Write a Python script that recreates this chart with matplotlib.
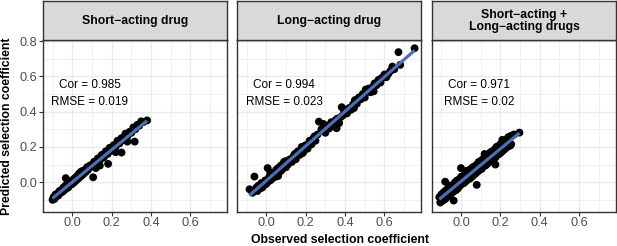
import numpy as np
import matplotlib
matplotlib.use("Agg")
import matplotlib.pyplot as plt
from matplotlib.ticker import FixedLocator

plt.rcParams['font.family'] = ['Liberation Sans', 'DejaVu Sans']

panel_titles = ["Short\u2212acting drug", "Long\u2212acting drug", "Short\u2212acting +\nLong\u2212acting drugs"]
cor_values = ["0.985", "0.994", "0.971"]
rmse_values = ["0.019", "0.023", "0.02"]

short_x = [-0.10, -0.095, -0.09, -0.085, -0.08, -0.075, -0.07, -0.065, -0.06, -0.055, -0.05, -0.045,
           -0.04, -0.035, -0.03, -0.025, -0.02, -0.015, -0.01, -0.005, 0.0, 0.005, 0.01, 0.015, 0.02,
           0.025, 0.03, 0.035, 0.04, 0.045, 0.05, 0.055, 0.06, 0.065, 0.07, 0.075, 0.08, 0.09, 0.10,
           0.11, 0.12, 0.13, 0.14, 0.15, 0.16, 0.17, 0.18, 0.19, 0.20, 0.21, 0.22, 0.23, 0.24, 0.25,
           0.26, 0.27, 0.28, 0.29, 0.30, 0.31, 0.32, 0.33, 0.34, 0.35, 0.36, 0.38,
           0.317, 0.25, 0.182, 0.14, 0.106, -0.033, 0.28, 0.12, 0.22]
short_y = [-0.10, -0.085, -0.095, -0.07, -0.08, -0.065, -0.075, -0.05, -0.06, -0.045, -0.055, -0.03,
           -0.045, -0.02, -0.035, -0.01, -0.03, 0.0, -0.015, 0.005, -0.01, 0.015, 0.0, 0.025, 0.01,
           0.035, 0.02, 0.05, 0.03, 0.06, 0.04, 0.065, 0.05, 0.07, 0.06, 0.085, 0.07, 0.095, 0.09,
           0.115, 0.105, 0.135, 0.125, 0.155, 0.14, 0.175, 0.16, 0.195, 0.18, 0.21, 0.20, 0.235, 0.22,
           0.25, 0.24, 0.275, 0.26, 0.285, 0.28, 0.31, 0.30, 0.325, 0.32, 0.345, 0.34, 0.35,
           0.23, 0.168, 0.104, 0.094, 0.028, 0.023, 0.23, 0.08, 0.17]

long_x = [-0.085, -0.07, -0.06, -0.05, -0.045, -0.04, -0.03, -0.025, -0.02, -0.01, -0.005, 0.0, 0.007,
          0.01, 0.015, 0.02, 0.025, 0.03, 0.04, 0.045, 0.05, 0.055, 0.06, 0.07, 0.075, 0.08, 0.09,
          0.095, 0.10, 0.11, 0.12, 0.13, 0.14, 0.15, 0.16, 0.17, 0.18, 0.19, 0.20, 0.21, 0.22, 0.23,
          0.24, 0.25, 0.26, 0.267, 0.28, 0.29, 0.30, 0.31, 0.32, 0.33, 0.34, 0.35, 0.357, 0.36, 0.37,
          0.38, 0.383, 0.39, 0.40, 0.41, 0.42, 0.43, 0.44, 0.45, 0.46, 0.47, 0.48, 0.49, 0.50, 0.51,
          0.52, 0.53, 0.54, 0.55, 0.56, 0.57, 0.58, 0.59, 0.60, 0.61, 0.62, 0.63, 0.65, 0.671, 0.68,
          0.753,
          0.02, 0.06, 0.10, 0.145, 0.185, 0.245, 0.30, 0.395, 0.445, 0.505, 0.545, 0.585, 0.64]
long_y = [-0.04, -0.06, 0.032, -0.03, -0.05, -0.02, -0.035, -0.005, -0.03, -0.015, 0.01, -0.01, 0.08,
          0.005, 0.03, 0.01, 0.045, 0.02, 0.05, 0.03, 0.07, 0.045, 0.08, 0.06, 0.095, 0.07, 0.115,
          0.085, 0.12, 0.10, 0.13, 0.115, 0.15, 0.13, 0.175, 0.155, 0.20, 0.175, 0.21, 0.19, 0.235,
          0.215, 0.25, 0.235, 0.27, 0.343, 0.30, 0.33, 0.31, 0.32, 0.305, 0.34, 0.32, 0.35, 0.306,
          0.36, 0.335, 0.37, 0.425, 0.38, 0.41, 0.39, 0.42, 0.41, 0.44, 0.465, 0.445, 0.48, 0.47,
          0.50, 0.48, 0.51, 0.53, 0.51, 0.54, 0.56, 0.55, 0.58, 0.565, 0.59, 0.61, 0.595, 0.615,
          0.63, 0.64, 0.737, 0.665, 0.759,
          0.055, 0.035, 0.085, 0.16, 0.165, 0.26, 0.28, 0.405, 0.42, 0.525, 0.515, 0.59, 0.655]

both_x = [-0.11, -0.10, -0.09, -0.08, -0.07, -0.06, -0.05, -0.04, -0.03, -0.02, -0.01, 0.0, 0.01, 0.02,
          0.03, 0.04, 0.05, 0.06, 0.07, 0.08, 0.09, 0.10, 0.11, 0.12, 0.13, 0.14, 0.15, 0.16, 0.17,
          0.18, 0.19, 0.20, 0.21, 0.22, 0.23, 0.24, 0.25, 0.26, 0.27, 0.297,
          -0.105, -0.095, -0.085, -0.075, -0.065, -0.055, -0.045, -0.035, -0.025, -0.015, -0.005,
          0.005, 0.015, 0.025, 0.035, 0.045, 0.055, 0.065, 0.075, 0.085, 0.095, 0.105, 0.115, 0.125,
          0.135, 0.145, 0.155, 0.165, 0.175, 0.185, 0.195, 0.205, 0.215, 0.225, 0.235, 0.245, 0.255,
          -0.10, -0.08, -0.06, -0.04, -0.02, 0.0, 0.02, 0.04, 0.06, 0.08, 0.10, 0.12, 0.14, 0.16,
          0.18, 0.20, 0.22, 0.24,
          0.25, -0.037, -0.08, 0.175, 0.08, 0.0, 0.03, 0.12, 0.21, -0.06]
both_y = [-0.085, -0.07, -0.06, -0.05, -0.04, -0.03, -0.02, -0.015, 0.0, 0.01, 0.015, 0.03, 0.035, 0.045,
          0.06, 0.065, 0.075, 0.085, 0.09, 0.10, 0.115, 0.12, 0.13, 0.14, 0.15, 0.155, 0.17, 0.175,
          0.185, 0.20, 0.205, 0.215, 0.225, 0.235, 0.24, 0.255, 0.26, 0.265, 0.27, 0.281,
          -0.115, -0.105, -0.10, -0.09, -0.08, -0.07, -0.06, -0.05, -0.045, -0.035, -0.02,
          -0.01, -0.005, 0.005, 0.015, 0.02, 0.03, 0.04, 0.05, 0.06, 0.07, 0.075, 0.09, 0.095,
          0.105, 0.115, 0.125, 0.135, 0.14, 0.155, 0.16, 0.17, 0.18, 0.19, 0.20, 0.21, 0.215,
          -0.095, -0.075, -0.055, -0.04, -0.02, 0.0, 0.02, 0.04, 0.055, 0.075, 0.095, 0.11, 0.13,
          0.15, 0.17, 0.185, 0.205, 0.225,
          0.207, -0.104, 0.003, 0.10, -0.015, 0.08, 0.065, 0.16, 0.24, -0.02]

datasets = [(short_x, short_y), (long_x, long_y), (both_x, both_y)]

W, H = 617, 246
fig = plt.figure(figsize=(W / 100, H / 100), dpi=100)

panel_lefts = [43.3, 237.3, 432.0]
panel_w = 184.0
top_px, bot_px = 40.3, 211.5
strip_top = 0.8

line_color = '#4a6fb5'
border = '#333333'

for i, ((xs, ys), title) in enumerate(zip(datasets, panel_titles)):
    l = panel_lefts[i]
    ax = fig.add_axes([l / W, 1 - bot_px / H, panel_w / W, (bot_px - top_px) / H])
    ax.set_xlim(-0.147, 0.787)
    ax.set_ylim(-0.166, 0.804)
    ax.xaxis.set_major_locator(FixedLocator([0.0, 0.2, 0.4, 0.6]))
    ax.xaxis.set_minor_locator(FixedLocator([-0.1, 0.1, 0.3, 0.5, 0.7]))
    ax.yaxis.set_major_locator(FixedLocator([0.0, 0.2, 0.4, 0.6, 0.8]))
    ax.yaxis.set_minor_locator(FixedLocator([-0.1, 0.1, 0.3, 0.5, 0.7]))
    ax.grid(which='major', color='#ebebeb', lw=1.0)
    ax.grid(which='minor', color='#ebebeb', lw=0.5)
    ax.set_axisbelow(True)
    ax.tick_params(which='minor', length=0)
    ax.tick_params(which='major', length=2.6, width=0.8, color=border,
                   labelsize=9.2, labelcolor='#4d4d4d', pad=1.5)
    ax.set_xticklabels(['0.0', '0.2', '0.4', '0.6'])
    if i == 0:
        ax.set_yticklabels(['0.0', '0.2', '0.4', '0.6', '0.8'])
    else:
        ax.tick_params(axis='y', which='major', length=0, labelleft=False)
    for s in ax.spines.values():
        s.set_color(border)
        s.set_linewidth(1.0)

    xa = np.array(xs)
    ya = np.array(ys)
    ax.scatter(xa, ya, s=32, color='black', edgecolors='none', zorder=2)
    k, b0 = np.polyfit(xa, ya, 1)
    xl = np.array([xa.min(), xa.max()])
    ax.plot(xl, k * xl + b0, color=line_color, lw=2.3, zorder=3, solid_capstyle='butt')

    ax.text(0.09, 0.55, "Cor = " + cor_values[i], ha='center', va='center', fontsize=8.5, color='black')
    ax.text(0.09, 0.452, "RMSE = " + rmse_values[i], ha='center', va='center', fontsize=8.5, color='black')

    sax = fig.add_axes([l / W, 1 - top_px / H, panel_w / W, (top_px - strip_top) / H])
    sax.set_facecolor('#d9d9d9')
    sax.set_xticks([])
    sax.set_yticks([])
    for s in sax.spines.values():
        s.set_color(border)
        s.set_linewidth(1.0)
    sax.text(0.5, 0.5, title, ha='center', va='center', fontsize=8.8, fontweight='bold',
             transform=sax.transAxes, linespacing=1.0)

fig.text(340 / W, 1 - 240 / H, "Observed selection coefficient", ha='center', va='center',
         fontsize=8.8, fontweight='bold')
fig.text(7.5 / W, 1 - 126 / H, "Predicted selection coefficient", ha='center', va='center',
         fontsize=8.8, fontweight='bold', rotation=90)

fig.savefig('out.png', dpi=100)
